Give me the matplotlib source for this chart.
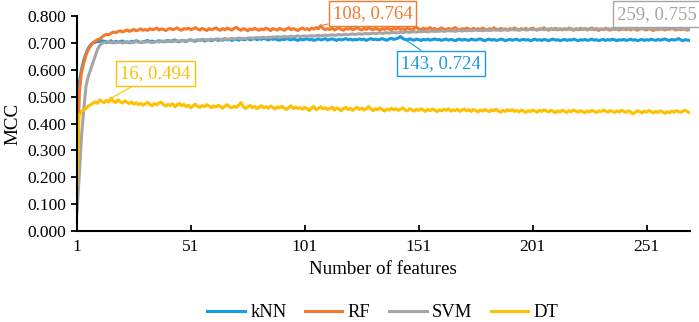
import matplotlib
matplotlib.use('Agg')
import matplotlib.pyplot as plt
import numpy as np

plt.rcParams['font.family'] = ['Liberation Serif', 'DejaVu Serif']

# MCC values (x1000) for 1..270 features
knn = [150, 550, 600, 635, 660, 680, 692, 700, 702, 705,
       705, 708, 706, 704, 702, 708, 700, 706, 703, 705,
       707, 702, 704, 700, 706, 703, 708, 705, 701, 704,
       706, 709, 704, 707, 703, 705, 708, 706, 704, 707,
       709, 705, 708, 711, 706, 704, 709, 707, 705, 710,
       712, 708, 706, 711, 709, 713, 707, 710, 712, 708,
       711, 714, 709, 712, 710, 715, 711, 713, 709, 712,
       714, 710, 716, 712, 713, 717, 711, 714, 716, 712,
       715, 713, 717, 714, 711, 716, 713, 715, 712, 710,
       714, 712, 716, 713, 711, 715, 712, 709, 714, 711,
       713, 716, 711, 714, 709, 712, 715, 711, 713, 716,
       710, 713, 715, 712, 709, 714, 711, 713, 716, 712,
       714, 710, 713, 711, 715, 712, 714, 709, 713, 716,
       712, 714, 711, 713, 716, 712, 710, 714, 717, 713,
       715, 718, 724, 716, 713, 711, 715, 712, 710, 714,
       712, 709, 713, 711, 714, 710, 712, 715, 711, 713,
       709, 712, 714, 710, 713, 711, 708, 712, 714, 710,
       713, 711, 709, 714, 712, 710, 713, 715, 711, 708,
       712, 714, 710, 713, 709, 711, 714, 712, 708, 711,
       713, 710, 712, 714, 709, 711, 713, 710, 712, 708,
       711, 714, 710, 712, 709, 713, 711, 708, 712, 714,
       710, 712, 708, 711, 713, 709, 712, 710, 714, 711,
       708, 712, 710, 713, 709, 711, 714, 710, 712, 708,
       711, 713, 709, 712, 710, 714, 711, 708, 712, 710,
       713, 709, 711, 714, 710, 712, 708, 711, 713, 709,
       712, 710, 714, 711, 709, 713, 710, 712, 715, 711,
       709, 713, 710, 712, 716, 711, 708, 712, 710, 709]

rf = [230, 510, 590, 625, 655, 675, 688, 700, 706, 712,
      714, 722, 728, 732, 730, 736, 740, 738, 742, 745,
      741, 744, 748, 743, 746, 750, 745, 748, 752, 747,
      750, 746, 753, 749, 751, 755, 748, 752, 750, 746,
      751, 754, 749, 752, 756, 750, 747, 753, 751, 755,
      749, 752, 757, 751, 748, 754, 750, 746, 753, 749,
      752, 756, 750, 747, 753, 749, 755, 751, 748, 754,
      758, 751, 747, 753, 750, 745, 752, 749, 754, 750,
      747, 752, 749, 755, 751, 746, 753, 750, 748, 754,
      750, 747, 752, 756, 749, 753, 750, 746, 752, 755,
      750, 753, 748, 755, 751, 757, 752, 764, 754, 749,
      753, 750, 755, 748, 752, 756, 750, 747, 753, 751,
      755, 749, 752, 757, 751, 748, 754, 750, 756, 752,
      749, 754, 751, 747, 753, 750, 755, 752, 748, 754,
      751, 756, 750, 753, 749, 755, 752, 748, 754, 758,
      752, 749, 755, 751, 753, 757, 750, 754, 748, 752,
      756, 751, 749, 754, 750, 753, 757, 751, 748, 753,
      750, 755, 752, 748, 754, 750, 753, 749, 755, 751,
      748, 753, 750, 756, 751, 749, 754, 750, 752, 748,
      753, 750, 755, 751, 748, 753, 750, 754, 749, 752,
      755, 750, 748, 753, 751, 756, 750, 747, 753, 750,
      754, 749, 752, 748, 753, 750, 755, 751, 747, 752,
      749, 754, 750, 753, 748, 752, 755, 749, 751, 746,
      752, 749, 755, 750, 747, 753, 750, 754, 748, 751,
      753, 749, 752, 748, 754, 750, 747, 752, 755, 750,
      748, 753, 750, 746, 752, 749, 754, 751, 748, 753,
      750, 755, 751, 748, 753, 749, 752, 750, 747, 751]

svm = [65, 200, 350, 450, 540, 575, 600, 625, 650, 675,
       690, 698, 702, 700, 704, 701, 703, 700, 704, 702,
       699, 703, 701, 704, 700, 702, 705, 703, 701, 704,
       702, 705, 703, 701, 704, 706, 703, 705, 707, 704,
       706, 708, 705, 707, 709, 706, 708, 710, 707, 709,
       711, 708, 710, 712, 709, 711, 713, 710, 712, 714,
       711, 713, 715, 712, 714, 716, 713, 715, 717, 714,
       716, 718, 715, 717, 716, 718, 719, 717, 719, 720,
       718, 720, 721, 719, 721, 720, 722, 721, 723, 721,
       722, 724, 722, 723, 725, 723, 724, 726, 724, 725,
       726, 724, 726, 727, 725, 727, 728, 726, 728, 729,
       727, 729, 730, 728, 730, 731, 729, 731, 732, 730,
       732, 733, 731, 733, 734, 732, 734, 735, 733, 735,
       736, 734, 736, 737, 735, 737, 738, 736, 738, 739,
       737, 739, 740, 738, 740, 741, 739, 741, 742, 740,
       742, 741, 743, 742, 741, 743, 744, 742, 744, 743,
       745, 743, 744, 746, 744, 745, 743, 745, 746, 744,
       746, 745, 747, 745, 746, 748, 746, 747, 745, 747,
       748, 746, 747, 749, 747, 748, 746, 748, 749, 747,
       748, 750, 748, 749, 747, 749, 750, 748, 749, 751,
       749, 750, 748, 750, 751, 749, 750, 752, 750, 751,
       749, 751, 752, 750, 751, 749, 751, 752, 750, 752,
       751, 749, 751, 753, 751, 752, 750, 752, 753, 751,
       752, 750, 752, 753, 751, 753, 752, 750, 752, 754,
       752, 753, 751, 753, 754, 752, 753, 751, 753, 754,
       752, 754, 753, 751, 753, 754, 752, 753, 755, 753,
       752, 754, 753, 751, 753, 754, 752, 753, 751, 752]

dt = [170, 430, 445, 450, 455, 465, 470, 475, 480, 475,
      488, 482, 478, 486, 480, 494, 483, 478, 488, 481,
      476, 484, 479, 474, 480, 472, 477, 470, 475, 468,
      473, 479, 471, 466, 474, 469, 476, 480, 470, 465,
      471, 467, 474, 462, 469, 475, 466, 471, 463, 468,
      458, 466, 472, 464, 460, 467, 462, 470, 465, 459,
      466, 461, 468, 463, 457, 465, 470, 462, 458, 464,
      460, 468, 478, 463, 456, 462, 467, 459, 464, 455,
      461, 466, 458, 463, 457, 465, 460, 454, 462, 458,
      464, 457, 452, 460, 466, 455, 461, 456, 459, 453,
      460, 455, 448, 458, 463, 451, 457, 462, 454, 459,
      452, 456, 461, 450, 458, 453, 447, 456, 460, 452,
      457, 449, 455, 461, 452, 457, 450, 455, 463, 454,
      448, 455, 451, 458, 452, 446, 454, 450, 457, 451,
      455, 449, 453, 458, 450, 447, 455, 451, 446, 453,
      449, 455, 450, 445, 452, 448, 454, 450, 444, 451,
      447, 453, 449, 455, 446, 451, 448, 453, 445, 450,
      454, 447, 451, 445, 452, 448, 443, 450, 446, 452,
      448, 444, 451, 447, 453, 446, 442, 449, 445, 451,
      447, 452, 445, 449, 443, 450, 446, 441, 448, 444,
      450, 446, 442, 449, 445, 451, 447, 443, 449, 445,
      440, 447, 443, 449, 445, 441, 448, 444, 450, 446,
      442, 448, 444, 440, 447, 443, 449, 445, 441, 447,
      444, 450, 446, 442, 448, 445, 441, 447, 443, 449,
      445, 441, 447, 443, 436, 442, 447, 444, 440, 446,
      442, 448, 444, 439, 445, 441, 447, 443, 438, 444,
      440, 446, 442, 448, 444, 441, 447, 449, 443, 440]

names = ['kNN', 'RF', 'SVM', 'DT']
colors = ['#1a9ae0', '#f5792a', '#a5a5a5', '#ffc000']
series = [knn, rf, svm, dt]

# best points: feature, label position (x, y)
best = {'DT': (16, 35.5, 0.587), 'RF': (108, 130.7, 0.809),
        'kNN': (143, 160.6, 0.623), 'SVM': (259, 255.4, 0.807)}

fig = plt.figure(figsize=(6.99, 3.22), dpi=100)
ax = fig.add_axes([0.110, 0.2826, 0.877, 0.6677])

x = np.arange(1, len(knn) + 1)
for name, col, vals in zip(names, colors, series):
    ax.plot(x, np.array(vals) / 1000, color=col, lw=2.2, label=name)

for name, col, vals in zip(names, colors, series):
    fx, tx, ty = best[name]
    fy = vals[fx - 1] / 1000
    ax.annotate(f'{fx}, {fy:.3f}', xy=(fx, fy), xytext=(tx, ty),
                ha='center', va='center', fontsize=13.5, color=col,
                bbox=dict(boxstyle='square,pad=0.22', fc='white', ec=col, lw=1),
                arrowprops=dict(arrowstyle='-', color=col, lw=0.8,
                                shrinkA=0, shrinkB=0),
                annotation_clip=False, zorder=5)

ax.set_xlim(1, 270)
ax.set_ylim(0, 0.8)
ax.set_xticks(np.arange(1, 252, 50))
ax.set_yticks(np.arange(0, 0.81, 0.1))
ax.yaxis.set_major_formatter(plt.FormatStrFormatter('%.3f'))
ax.tick_params(axis='x', direction='in', length=4, width=1.3, labelsize=12.5, pad=6)
ax.tick_params(axis='y', direction='out', length=4, width=1.3, labelsize=12.5, pad=4)

ax.spines['top'].set_visible(False)
ax.spines['right'].set_visible(False)
ax.spines['left'].set_linewidth(1.5)
ax.spines['bottom'].set_linewidth(1.5)

ax.set_xlabel('Number of features', fontsize=13.7, labelpad=4)
ax.set_ylabel('MCC', fontsize=13.7, labelpad=4)

fig.legend(loc='center', bbox_to_anchor=(0.548, 0.028), ncol=4, frameon=False,
           fontsize=13.4, handlelength=2.0, handletextpad=0.3, columnspacing=1.0)

fig.savefig('out.png', dpi=100)
